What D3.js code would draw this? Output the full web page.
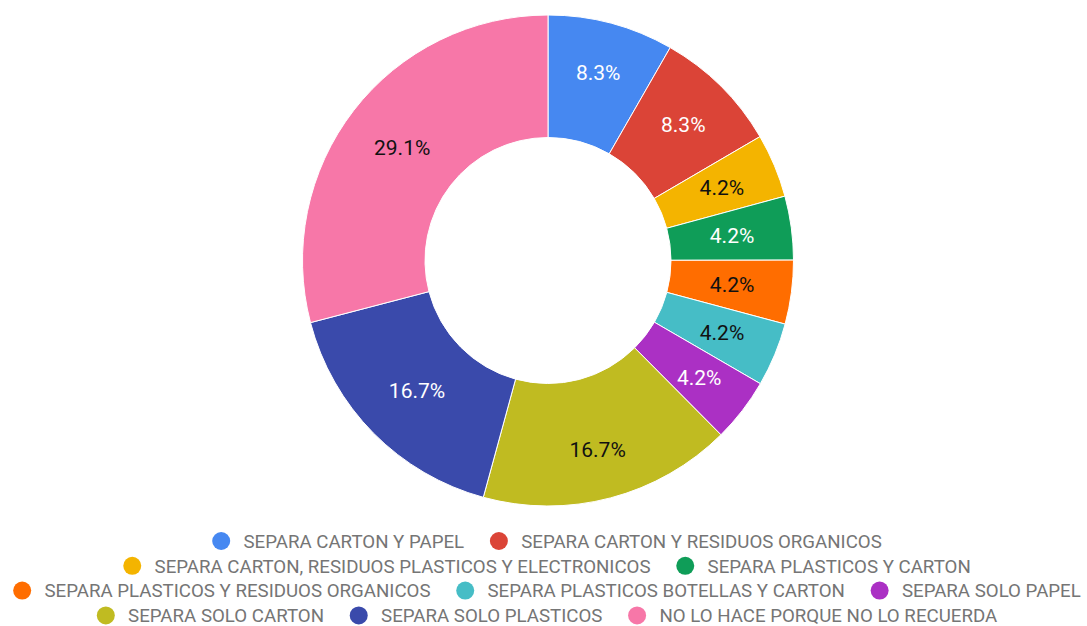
<!DOCTYPE html>
<html>
<head>
<meta charset="utf-8">
<script src="https://cdn.jsdelivr.net/npm/d3@7"></script>
<style>
  html, body { margin: 0; padding: 0; background: #ffffff; }
  svg { display: block; font-family: Roboto, "Noto Sans", sans-serif; }
</style>
</head>
<body>
<svg id="chart" width="1087" height="626"></svg>
<script>
const categories = [
  "SEPARA CARTON Y PAPEL",
  "SEPARA CARTON Y RESIDUOS ORGANICOS",
  "SEPARA CARTON, RESIDUOS PLASTICOS Y ELECTRONICOS",
  "SEPARA PLASTICOS Y CARTON",
  "SEPARA PLASTICOS Y RESIDUOS ORGANICOS",
  "SEPARA PLASTICOS BOTELLAS Y CARTON",
  "SEPARA SOLO PAPEL",
  "SEPARA SOLO CARTON",
  "SEPARA SOLO PLASTICOS",
  "NO LO HACE PORQUE NO LO RECUERDA"
];
const percentages = [8.3, 8.3, 4.2, 4.2, 4.2, 4.2, 4.2, 16.7, 16.7, 29.1];
const colors = ["#4688f1", "#db4437", "#f4b400", "#0f9d58", "#ff6d00",
                "#46bdc6", "#ab30c4", "#c0bb21", "#3a4aab", "#f777a8"];
const labelColors = ["#ffffff", "#ffffff", "#111111", "#ffffff", "#111111",
                     "#111111", "#ffffff", "#111111", "#ffffff", "#111111"];

const data = categories.map((c, i) => ({ name: c, value: percentages[i], color: colors[i], textColor: labelColors[i] }));

const svg = d3.select("#chart");
const cx = 548, cy = 260.5, outerR = 245.5, innerR = 123;
const midR = (outerR + innerR) / 2;

const pie = d3.pie().value(d => d.value).sort(null);
const arc = d3.arc().innerRadius(innerR).outerRadius(outerR);

const g = svg.append("g").attr("transform", `translate(${cx},${cy})`);
const arcs = pie(data);

g.selectAll("path.slice")
  .data(arcs)
  .join("path")
  .attr("class", "slice")
  .attr("d", arc)
  .attr("fill", d => d.data.color)
  .attr("stroke", "#ffffff")
  .attr("stroke-width", 1);

function labelPos(d) {
  const a = (d.startAngle + d.endAngle) / 2;
  const r = midR + (Math.sin(a) > 0 ? 11 * Math.abs(Math.cos(a)) : 0);
  return [r * Math.sin(a), -r * Math.cos(a)];
}

g.selectAll("text.pct")
  .data(arcs)
  .join("text")
  .attr("class", "pct")
  .attr("transform", d => `translate(${labelPos(d)})`)
  .attr("text-anchor", "middle")
  .attr("dy", "0.36em")
  .attr("font-size", 21)
  .attr("fill", d => d.data.textColor)
  .text(d => d.data.value.toFixed(1) + "%");

// Legend
const legendFont = 18.7;
const dotR = 9, dotToText = 22.3, itemGap = 25.7;
const rowY0 = 541, rowStep = 24.8, maxRowWidth = 1085, legendCenter = 547;

const legend = svg.append("g");
const measure = legend.append("text").attr("font-size", legendFont);
const widths = data.map(d => { measure.text(d.name); return measure.node().getComputedTextLength(); });
measure.remove();

const itemW = i => dotR + dotToText + widths[i];
const rows = [];
let cur = [], curW = 0;
data.forEach((d, i) => {
  const w = itemW(i);
  const add = cur.length ? itemGap + w : w;
  if (cur.length && curW + add > maxRowWidth) { rows.push({ items: cur, width: curW }); cur = [i]; curW = w; }
  else { cur.push(i); curW += add; }
});
if (cur.length) rows.push({ items: cur, width: curW });

rows.forEach((row, r) => {
  let x = legendCenter - row.width / 2;
  const y = rowY0 + r * rowStep;
  row.items.forEach(i => {
    const d = data[i];
    const item = legend.append("g");
    item.append("circle").attr("cx", x + dotR).attr("cy", y).attr("r", dotR).attr("fill", d.color);
    item.append("text")
      .attr("x", x + dotR + dotToText)
      .attr("y", y)
      .attr("dy", "0.36em")
      .attr("font-size", legendFont)
      .attr("fill", "#757575")
      .text(d.name);
    x += itemW(i) + itemGap;
  });
});
</script>
</body>
</html>
